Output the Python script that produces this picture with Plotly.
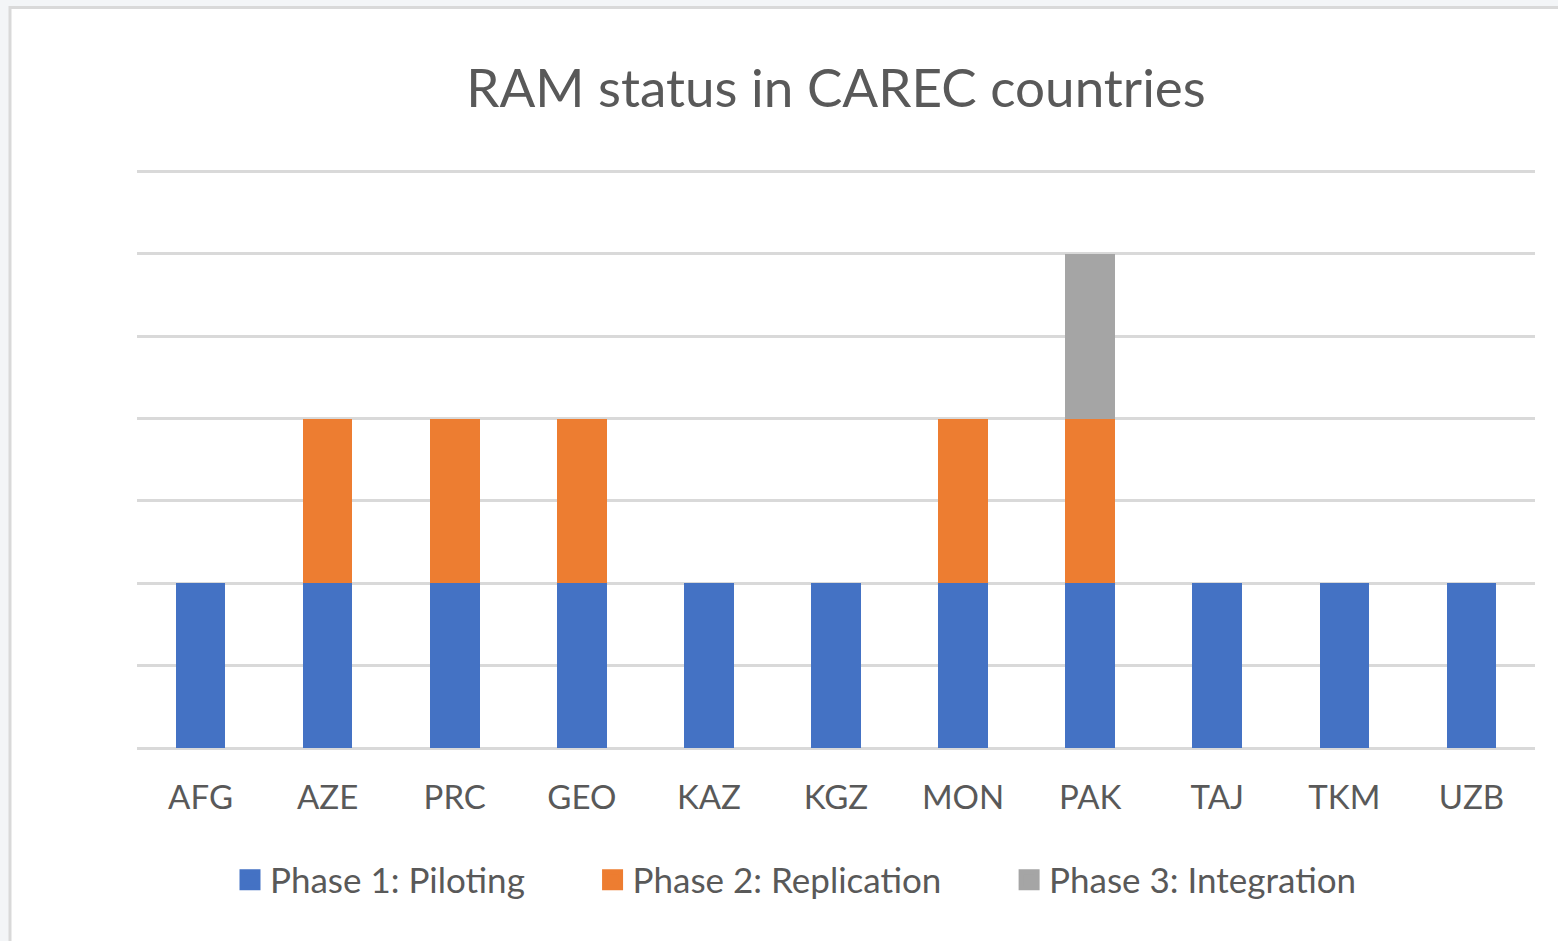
import plotly.graph_objects as go

countries = ["AFG", "AZE", "PRC", "GEO", "KAZ", "KGZ", "MON", "PAK", "TAJ", "TKM", "UZB"]
phase1 = [1, 1, 1, 1, 1, 1, 1, 1, 1, 1, 1]
phase2 = [0, 1, 1, 1, 0, 0, 1, 1, 0, 0, 0]
phase3 = [0, 0, 0, 0, 0, 0, 0, 1, 0, 0, 0]
series_names = ["Phase 1: Piloting", "Phase 2: Replication", "Phase 3: Integration"]
colors = ["#4472C4", "#ED7D31", "#A5A5A5"]

W, H = 1558, 941
YMAX = 3.51
L, R, B = 137, 1535, 748
T = B - 576 * YMAX / 3.5

fig = go.Figure()
pad = "\u00a0" * 7
for i, (name, vals, col) in enumerate(zip(series_names, [phase1, phase2, phase3], colors)):
    fig.add_trace(go.Bar(x=countries, y=vals, name=name, marker=dict(color=col, line=dict(width=0)),
                         showlegend=False))
    label = name + (pad if i < len(series_names) - 1 else "")
    fig.add_trace(go.Scatter(x=[None], y=[None], mode="markers", name=label,
                             marker=dict(symbol="square", size=16, color=col,
                                         line=dict(color=col, width=5))))

def px_x(p):
    return (p - L) / (R - L)

def px_y(p):
    return (B - p) / (B - T)

fig.add_shape(type="rect", xref="paper", yref="paper",
              x0=px_x(10), x1=px_x(1600), y0=px_y(8), y1=px_y(1000),
              fillcolor="white", line=dict(color="#d9d9d9", width=3), layer="below")

fig.update_layout(
    width=W, height=H,
    margin=dict(l=L, r=W - R, t=T, b=H - B),
    paper_bgcolor="#f3f5f7",
    plot_bgcolor="rgba(0,0,0,0)",
    barmode="stack",
    bargap=0.61,
    font=dict(family="Lato", color="#595959"),
    title=dict(text="RAM status in CAREC countries", x=836 / W, xanchor="center",
               y=1 - 88 / H, yanchor="middle", font=dict(size=53, color="#595959")),
    xaxis=dict(showgrid=False, showline=False, ticks="", tickfont=dict(size=33, color="#595959"),
               ticklabelstandoff=27),
    yaxis=dict(range=[0, YMAX], dtick=0.5, showticklabels=False, gridcolor="#d9d9d9", gridwidth=3,
               zeroline=True, zerolinecolor="#d9d9d9", zerolinewidth=3, ticks=""),
    legend=dict(orientation="h", x=796 / W, xref="container", xanchor="center",
                y=1 - 880 / H, yref="container", yanchor="middle", traceorder="normal",
                font=dict(size=35, color="#595959"), itemwidth=30, bgcolor="rgba(0,0,0,0)"),
)

fig.write_html("out.html", config={"displayModeBar": False},
               post_script="document.body.style.margin='0';")
